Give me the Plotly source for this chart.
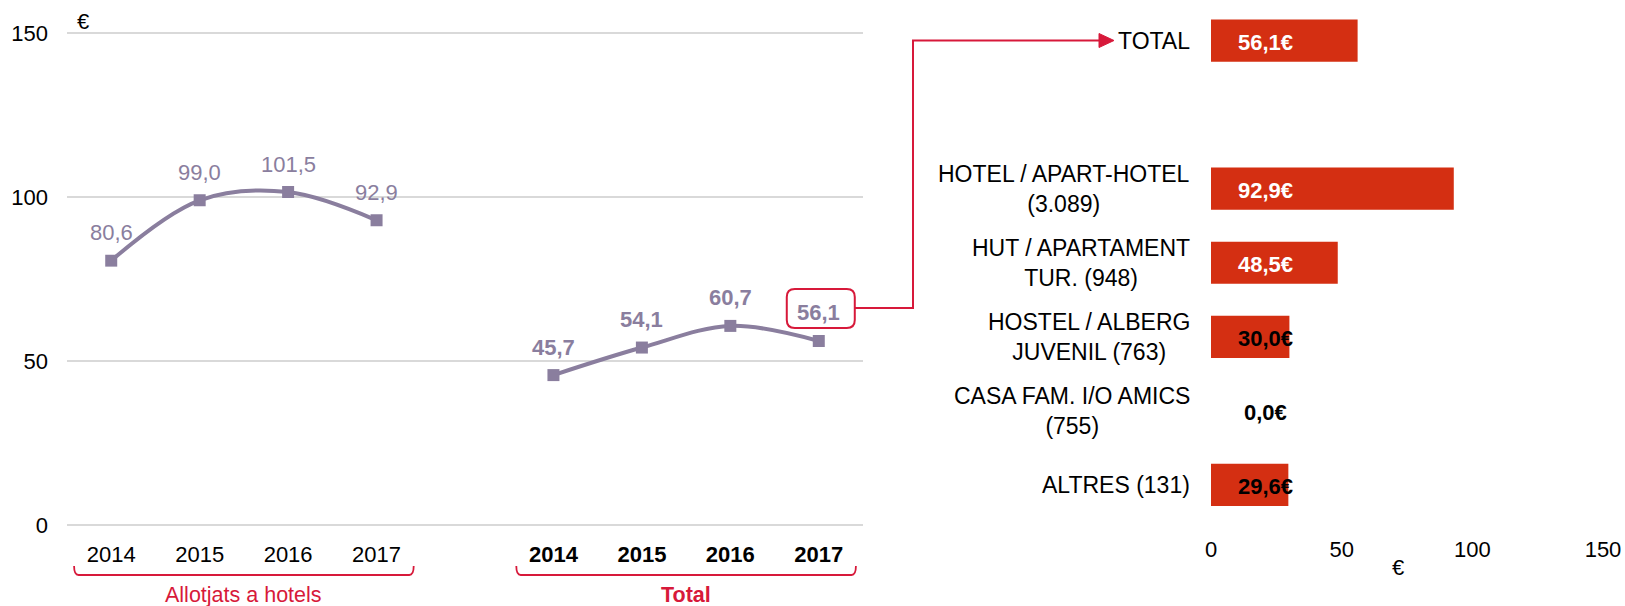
import plotly.graph_objects as go

# ---------------- data ----------------
years = ["2014", "2015", "2016", "2017"]
groups = ["Allotjats a hotels", "Total"]
hotel_vals = [80.6, 99.0, 101.5, 92.9]
total_vals = [45.7, 54.1, 60.7, 56.1]

bar_cats = ["TOTAL", "HOTEL / APART-HOTEL<br>(3.089)", "HUT / APARTAMENT<br>TUR. (948)",
            "HOSTEL / ALBERG<br>JUVENIL (763)", "CASA FAM. I/O AMICS<br>(755)", "ALTRES (131)"]
bar_vals = [56.1, 92.9, 48.5, 30.0, 0.0, 29.6]
bar_ticks = [0, 50, 100, 150]
line_ticks = [0, 50, 100, 150]

# ---------------- style ----------------
W, H = 1625, 606
FONT = "Liberation Sans, Arial, sans-serif"
FS = 22     # data labels / values
FT = 22     # tick labels
FC = 23     # bar category labels
FG = 21.5   # group labels
LINE_C = "#8A7E9E"
BAR_C = "#D42F12"
RED = "#D7193A"
GRID = "#D9D9D9"


def px(x):
    return x / W


def py(y):
    return 1 - y / H


def fmt(v):
    return f"{v:.1f}".replace(".", ",")


fig = go.Figure()

# positions: group 1 at 0..3, gap, group 2 at 5..8
n = len(years)
pos_h = list(range(n))
pos_t = [n + 1 + i for i in range(n)]

for pos, vals, bold in [(pos_h, hotel_vals, False), (pos_t, total_vals, True)]:
    fig.add_trace(go.Scatter(
        x=pos, y=vals, mode="lines+markers",
        line=dict(color=LINE_C, width=4, shape="spline", smoothing=1),
        marker=dict(symbol="square", size=12, color=LINE_C),
        hoverinfo="skip", showlegend=False, xaxis="x", yaxis="y"))
    for p, v in zip(pos, vals):
        t = fmt(v)
        fig.add_annotation(x=p, y=v, xref="x", yref="y", text=f"<b>{t}</b>" if bold else t,
                           showarrow=False, yshift=28, yanchor="middle",
                           font=dict(family=FONT, size=FS, color=LINE_C))

# bar chart positions: TOTAL at 0, gap, others at 2..
bpos = [0] + [i + 1 for i in range(1, len(bar_cats))]
fig.add_trace(go.Bar(
    x=bar_vals, y=bpos, orientation="h", width=0.57,
    marker=dict(color=BAR_C, line=dict(width=0)),
    hoverinfo="skip", showlegend=False, xaxis="x2", yaxis="y2"))

for c, p, v in zip(bar_cats, bpos, bar_vals):
    fig.add_annotation(x=0, y=p, xref="x2", yref="y2", text=c, showarrow=False,
                       xanchor="right", yanchor="middle", align="center", xshift=-19,
                       font=dict(family=FONT, size=FC, color="#000000"))
    fig.add_annotation(x=21, y=p, xref="x2", yref="y2", text=f"<b>{fmt(v)}€</b>",
                       showarrow=False, yshift=-2, yanchor="middle",
                       font=dict(family=FONT, size=FS, color="#FFFFFF" if v > 40 else "#000000"))

# tick labels
tickvals = pos_h + pos_t
ticktext = years + [f"<b>{y}</b>" for y in years]

upp = (525 - 33) / 150.0  # px per unit on left y axis
nslots = len(bar_cats) + 1

fig.update_layout(
    template="none",
    width=W, height=H, margin=dict(l=0, r=0, t=0, b=0, pad=0, autoexpand=False),
    paper_bgcolor="white", plot_bgcolor="white",
    font=dict(family=FONT, size=FS, color="#000000"),
    hovermode=False,
    xaxis=dict(domain=[px(67), px(863)], range=[-0.5, 2 * n + 0.5], tickvals=tickvals,
               ticktext=ticktext, showgrid=False, zeroline=False, showline=False,
               ticks="", ticklabelstandoff=12, tickfont=dict(size=FT, color="#000"),
               anchor="y", fixedrange=True, automargin=False),
    yaxis=dict(domain=[py(525 + 0.5 * upp), py(33 - 0.5 * upp)], range=[-0.5, 150.5],
               tickvals=line_ticks,
               showgrid=True, gridcolor=GRID, gridwidth=1.5, zeroline=False, showline=False,
               ticks="", ticklabelstandoff=18, tickfont=dict(size=FT, color="#000"),
               anchor="x", fixedrange=True, automargin=False),
    xaxis2=dict(domain=[px(1211), px(1603)], range=[0, 150], tickvals=bar_ticks,
                showgrid=False, zeroline=False, showline=False, ticks="",
                ticklabelstandoff=12, tickfont=dict(size=FT, color="#000"),
                anchor="y2", fixedrange=True, automargin=False),
    yaxis2=dict(domain=[py(522), py(3.5)], range=[nslots - 0.5, -0.5],
                showgrid=False, zeroline=False, showline=False, showticklabels=False,
                anchor="x2", fixedrange=True, automargin=False),
)

# euro signs
fig.add_annotation(x=px(75), y=py(21), xref="paper", yref="paper", text="€", showarrow=False,
                   yanchor="middle", font=dict(family=FONT, size=FS, color="#000"))
fig.add_annotation(x=px(1406), y=py(567), xref="paper", yref="paper", text="€",
                   yanchor="middle", showarrow=False,
                   font=dict(family=FONT, size=FS, color="#000"))

# brackets + group labels
for pos, g, bold in [(pos_h, groups[0], False), (pos_t, groups[1], True)]:
    x0, x1 = pos[0] - 0.42, pos[-1] + 0.42
    d = 0.05
    path = (f"M {x0},{py(566)} Q {x0},{py(575)} {x0 + d},{py(575)} "
            f"L {x1 - d},{py(575)} Q {x1},{py(575)} {x1},{py(566)}")
    fig.add_shape(type="path", path=path, xref="x", yref="paper",
                  line=dict(color=RED, width=1.8))
    fig.add_annotation(x=(pos[0] + pos[-1]) / 2, y=py(595), xref="x", yref="paper",
                       text=f"<b>{g}</b>" if bold else g, showarrow=False, yanchor="middle",
                       font=dict(family=FONT, size=FG, color=RED))

# callout box around last total label (pixel offsets from the point)
r = 8
bx0, bx1, by0, by1 = -32, 36, 13, 52
box = (f"M {bx0 + r},{by0} L {bx1 - r},{by0} Q {bx1},{by0} {bx1},{by0 + r} "
       f"L {bx1},{by1 - r} Q {bx1},{by1} {bx1 - r},{by1} L {bx0 + r},{by1} "
       f"Q {bx0},{by1} {bx0},{by1 - r} L {bx0},{by0 + r} Q {bx0},{by0} {bx0 + r},{by0} Z")
fig.add_shape(type="path", path=box, xref="x", yref="y", xsizemode="pixel", ysizemode="pixel",
              xanchor=pos_t[-1], yanchor=total_vals[-1], line=dict(color=RED, width=2))

# connector with arrow to TOTAL bar label
conn = (f"M {px(854)},{py(308)} L {px(913)},{py(308)} L {px(913)},{py(40.5)} "
        f"L {px(1100)},{py(40.5)}")
fig.add_shape(type="path", path=conn, xref="paper", yref="paper", line=dict(color=RED, width=2))
tri = f"M {px(1099)},{py(33.5)} L {px(1114)},{py(40.5)} L {px(1099)},{py(47.5)} Z"
fig.add_shape(type="path", path=tri, xref="paper", yref="paper", fillcolor=RED,
              line=dict(color=RED, width=1))

fig.write_html(
    "out.html",
    config={"displayModeBar": False},
    post_script="document.body.style.margin='0';document.body.style.overflow='hidden';",
)
